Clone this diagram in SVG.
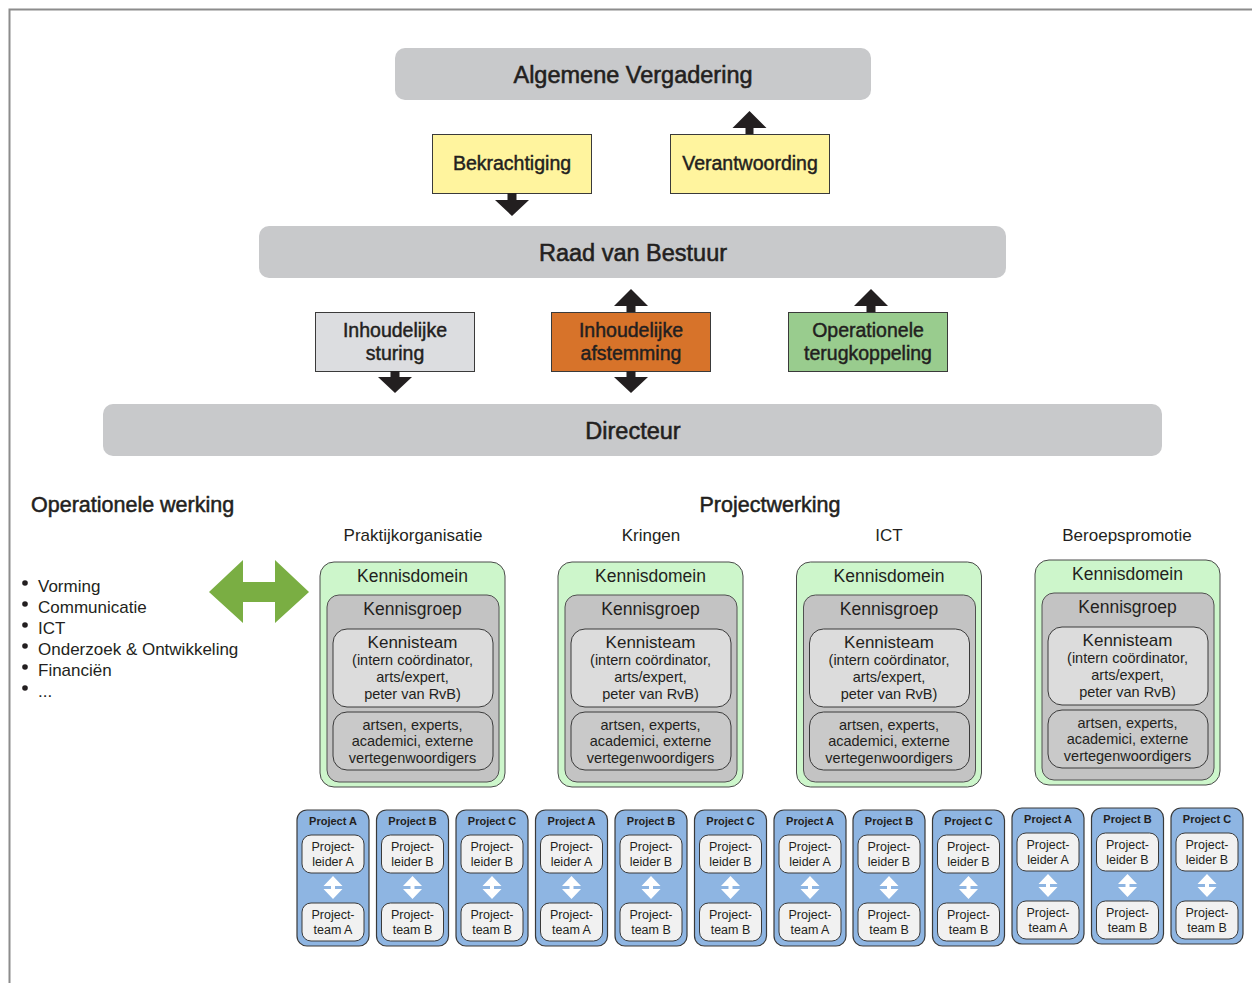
<svg xmlns="http://www.w3.org/2000/svg" xmlns:xlink="http://www.w3.org/1999/xlink" width="1252" height="983" viewBox="0 0 1252 983">
<style>
text{font-family:"Liberation Sans",Arial,Helvetica,sans-serif;fill:#231f20}
.c{text-anchor:middle}
.bar{font-size:23.5px;stroke:#231f20;stroke-width:0.55}
.bx{font-size:19.5px;stroke:#231f20;stroke-width:0.45}
.hd{font-size:21.5px;stroke:#231f20;stroke-width:0.5}
.lbl{font-size:17px}
.kd{font-size:17.5px}
.kt{font-size:17px}
.sm{font-size:14.5px}
.pt{font-size:11px;font-weight:bold}
.pl{font-size:12.5px}
.gbar{fill:#c8c9cb}
.blk{fill:#231f20}
.kdom{fill:#cdf6cb;stroke:#4a4a4a;stroke-width:1}
.kgrp{fill:#c3c3c3;stroke:#505050;stroke-width:1}
.kteam{fill:#dcdcdc;stroke:#3a3a3a;stroke-width:1}
.kmem{fill:#c9c9c9;stroke:#3a3a3a;stroke-width:1}
.pbx{fill:#8eb5e2;stroke:#3a3a3a;stroke-width:1.2}
.pin{fill:#f1f1f1;stroke:#3a3a3a;stroke-width:1}
</style>
<defs>
<g id="proj">
<rect class="pbx" x="0" y="0" width="72" height="136" rx="10"/>
<rect class="pin" x="5" y="25" width="62" height="38" rx="9"/>
<rect class="pin" x="5" y="93" width="62" height="38" rx="9"/>
<path fill="#ffffff" d="M36,66 L45.5,76 H38 V79 H45.5 L36,89 L26.5,79 H34 V76 H26.5 Z"/>
</g>
<g id="kshape">
<rect class="kdom" x="0" y="0" width="185" height="225" rx="14"/>
<rect class="kgrp" x="7" y="33" width="172" height="187" rx="12"/>
<rect class="kteam" x="13" y="67" width="160" height="78" rx="14"/>
<rect class="kmem" x="13" y="150" width="160" height="58" rx="14"/>
</g>
</defs>
<rect x="0" y="0" width="1252" height="983" fill="#ffffff"/>
<g id="frame" stroke="#8c8c8c" stroke-width="2" fill="none">
<path d="M9.5,983 V9.5 H1252"/>
</g>

<g id="algemene-vergadering">
<rect class="gbar" x="395" y="48" width="476" height="52" rx="10"/>
<text class="c bar" x="633" y="83">Algemene Vergadering</text>
</g>
<g id="bekrachtiging">
<rect x="432.5" y="134.5" width="159" height="59" fill="#fff49e" stroke="#3a3a3a" stroke-width="1"/>
<text class="c bx" x="512" y="170">Bekrachtiging</text>
</g>
<g id="verantwoording">
<rect x="670.5" y="134.5" width="159" height="59" fill="#fff49e" stroke="#3a3a3a" stroke-width="1"/>
<text class="c bx" x="750" y="170">Verantwoording</text>
</g>
<g id="raad-van-bestuur">
<rect class="gbar" x="259" y="226" width="747" height="52" rx="10"/>
<text class="c bar" x="633" y="261">Raad van Bestuur</text>
</g>
<g id="inhoudelijke-sturing">
<rect x="315.5" y="312.5" width="159" height="59" fill="#dcdde0" stroke="#3a3a3a" stroke-width="1"/>
<text class="c bx" x="395" y="337">Inhoudelijke</text>
<text class="c bx" x="395" y="360">sturing</text>
</g>
<g id="inhoudelijke-afstemming">
<rect x="551.5" y="312.5" width="159" height="59" fill="#d7732a" stroke="#3a3a3a" stroke-width="1"/>
<text class="c bx" x="631" y="337">Inhoudelijke</text>
<text class="c bx" x="631" y="360">afstemming</text>
</g>
<g id="operationele-terugkoppeling">
<rect x="788.5" y="312.5" width="159" height="59" fill="#99cc8e" stroke="#3a3a3a" stroke-width="1"/>
<text class="c bx" x="868" y="337">Operationele</text>
<text class="c bx" x="868" y="360">terugkoppeling</text>
</g>
<g id="directeur">
<rect class="gbar" x="103" y="404" width="1059" height="52" rx="10"/>
<text class="c bar" x="633" y="439">Directeur</text>
</g>

<g id="connectors">
<path class="blk" d="M507.5,193 H516.5 V200 H529 L512,216 L495,200 H507.5 Z"/>
<path class="blk" d="M745.5,134 H753.5 V128 H766.5 L749.5,111 L732.5,128 H745.5 Z"/>
<path class="blk" d="M390.5,371 H399.5 V377 H412 L395,393 L378,377 H390.5 Z"/>
<path class="blk" d="M626.5,312 H635.5 V306 H648 L631,289 L614,306 H626.5 Z"/>
<path class="blk" d="M626.5,371 H635.5 V377 H648 L631,393 L614,377 H626.5 Z"/>
<path class="blk" d="M866.5,312 H875.5 V306 H888 L871,289 L854,306 H866.5 Z"/>
<path fill="#7aae43" d="M209,592 L243,560 V582 H275 V560 L309,592 L275,623 V602 H243 V623 Z"/>
</g>

<g id="operationele-werking">
<text class="hd" x="31" y="512">Operationele werking</text>
<g fill="#231f20">
<circle cx="25" cy="583" r="2.8"/>
<circle cx="25" cy="604" r="2.8"/>
<circle cx="25" cy="625" r="2.8"/>
<circle cx="25" cy="646" r="2.8"/>
<circle cx="25" cy="667" r="2.8"/>
<circle cx="25" cy="688" r="2.8"/>
</g>
<text class="lbl" x="38" y="592">Vorming</text>
<text class="lbl" x="38" y="613">Communicatie</text>
<text class="lbl" x="38" y="634">ICT</text>
<text class="lbl" x="38" y="655">Onderzoek &amp; Ontwikkeling</text>
<text class="lbl" x="38" y="676">Financiën</text>
<text class="lbl" x="38" y="697">...</text>
</g>

<g id="projectwerking">
<text class="c hd" x="770" y="512">Projectwerking</text>
<text class="c lbl" x="413" y="541">Praktijkorganisatie</text>
<text class="c lbl" x="651" y="541">Kringen</text>
<text class="c lbl" x="889" y="541">ICT</text>
<text class="c lbl" x="1127" y="541">Beroepspromotie</text>
</g>

<g id="kennisdomein-praktijkorganisatie" transform="translate(320,562)">
<use xlink:href="#kshape" href="#kshape"/>
<text class="c kd" x="92.5" y="20">Kennisdomein</text>
<text class="c kd" x="92.5" y="53">Kennisgroep</text>
<text class="c kt" x="92.5" y="86">Kennisteam</text>
<text class="c sm" x="92.5" y="103">(intern coördinator,</text>
<text class="c sm" x="92.5" y="120">arts/expert,</text>
<text class="c sm" x="92.5" y="137">peter van RvB)</text>
<text class="c sm" x="92.5" y="168">artsen, experts,</text>
<text class="c sm" x="92.5" y="184">academici, externe</text>
<text class="c sm" x="92.5" y="201">vertegenwoordigers</text>
</g>
<g id="kennisdomein-kringen" transform="translate(558,562)">
<use xlink:href="#kshape" href="#kshape"/>
<text class="c kd" x="92.5" y="20">Kennisdomein</text>
<text class="c kd" x="92.5" y="53">Kennisgroep</text>
<text class="c kt" x="92.5" y="86">Kennisteam</text>
<text class="c sm" x="92.5" y="103">(intern coördinator,</text>
<text class="c sm" x="92.5" y="120">arts/expert,</text>
<text class="c sm" x="92.5" y="137">peter van RvB)</text>
<text class="c sm" x="92.5" y="168">artsen, experts,</text>
<text class="c sm" x="92.5" y="184">academici, externe</text>
<text class="c sm" x="92.5" y="201">vertegenwoordigers</text>
</g>
<g id="kennisdomein-ict" transform="translate(796.5,562)">
<use xlink:href="#kshape" href="#kshape"/>
<text class="c kd" x="92.5" y="20">Kennisdomein</text>
<text class="c kd" x="92.5" y="53">Kennisgroep</text>
<text class="c kt" x="92.5" y="86">Kennisteam</text>
<text class="c sm" x="92.5" y="103">(intern coördinator,</text>
<text class="c sm" x="92.5" y="120">arts/expert,</text>
<text class="c sm" x="92.5" y="137">peter van RvB)</text>
<text class="c sm" x="92.5" y="168">artsen, experts,</text>
<text class="c sm" x="92.5" y="184">academici, externe</text>
<text class="c sm" x="92.5" y="201">vertegenwoordigers</text>
</g>
<g id="kennisdomein-beroepspromotie" transform="translate(1035,560)">
<use xlink:href="#kshape" href="#kshape"/>
<text class="c kd" x="92.5" y="20">Kennisdomein</text>
<text class="c kd" x="92.5" y="53">Kennisgroep</text>
<text class="c kt" x="92.5" y="86">Kennisteam</text>
<text class="c sm" x="92.5" y="103">(intern coördinator,</text>
<text class="c sm" x="92.5" y="120">arts/expert,</text>
<text class="c sm" x="92.5" y="137">peter van RvB)</text>
<text class="c sm" x="92.5" y="168">artsen, experts,</text>
<text class="c sm" x="92.5" y="184">academici, externe</text>
<text class="c sm" x="92.5" y="201">vertegenwoordigers</text>
</g>

<g id="project-1" transform="translate(297,810)"><use xlink:href="#proj" href="#proj"/>
<text class="c pt" x="36" y="15">Project A</text><text class="c pl" x="36" y="41">Project-</text><text class="c pl" x="36" y="56">leider A</text><text class="c pl" x="36" y="109">Project-</text><text class="c pl" x="36" y="124">team A</text></g>
<g id="project-2" transform="translate(376.5,810)"><use xlink:href="#proj" href="#proj"/>
<text class="c pt" x="36" y="15">Project B</text><text class="c pl" x="36" y="41">Project-</text><text class="c pl" x="36" y="56">leider B</text><text class="c pl" x="36" y="109">Project-</text><text class="c pl" x="36" y="124">team B</text></g>
<g id="project-3" transform="translate(456,810)"><use xlink:href="#proj" href="#proj"/>
<text class="c pt" x="36" y="15">Project C</text><text class="c pl" x="36" y="41">Project-</text><text class="c pl" x="36" y="56">leider B</text><text class="c pl" x="36" y="109">Project-</text><text class="c pl" x="36" y="124">team B</text></g>
<g id="project-4" transform="translate(535.5,810)"><use xlink:href="#proj" href="#proj"/>
<text class="c pt" x="36" y="15">Project A</text><text class="c pl" x="36" y="41">Project-</text><text class="c pl" x="36" y="56">leider A</text><text class="c pl" x="36" y="109">Project-</text><text class="c pl" x="36" y="124">team A</text></g>
<g id="project-5" transform="translate(615,810)"><use xlink:href="#proj" href="#proj"/>
<text class="c pt" x="36" y="15">Project B</text><text class="c pl" x="36" y="41">Project-</text><text class="c pl" x="36" y="56">leider B</text><text class="c pl" x="36" y="109">Project-</text><text class="c pl" x="36" y="124">team B</text></g>
<g id="project-6" transform="translate(694.5,810)"><use xlink:href="#proj" href="#proj"/>
<text class="c pt" x="36" y="15">Project C</text><text class="c pl" x="36" y="41">Project-</text><text class="c pl" x="36" y="56">leider B</text><text class="c pl" x="36" y="109">Project-</text><text class="c pl" x="36" y="124">team B</text></g>
<g id="project-7" transform="translate(774,810)"><use xlink:href="#proj" href="#proj"/>
<text class="c pt" x="36" y="15">Project A</text><text class="c pl" x="36" y="41">Project-</text><text class="c pl" x="36" y="56">leider A</text><text class="c pl" x="36" y="109">Project-</text><text class="c pl" x="36" y="124">team A</text></g>
<g id="project-8" transform="translate(853,810)"><use xlink:href="#proj" href="#proj"/>
<text class="c pt" x="36" y="15">Project B</text><text class="c pl" x="36" y="41">Project-</text><text class="c pl" x="36" y="56">leider B</text><text class="c pl" x="36" y="109">Project-</text><text class="c pl" x="36" y="124">team B</text></g>
<g id="project-9" transform="translate(932.5,810)"><use xlink:href="#proj" href="#proj"/>
<text class="c pt" x="36" y="15">Project C</text><text class="c pl" x="36" y="41">Project-</text><text class="c pl" x="36" y="56">leider B</text><text class="c pl" x="36" y="109">Project-</text><text class="c pl" x="36" y="124">team B</text></g>
<g id="project-10" transform="translate(1012,808)"><use xlink:href="#proj" href="#proj"/>
<text class="c pt" x="36" y="15">Project A</text><text class="c pl" x="36" y="41">Project-</text><text class="c pl" x="36" y="56">leider A</text><text class="c pl" x="36" y="109">Project-</text><text class="c pl" x="36" y="124">team A</text></g>
<g id="project-11" transform="translate(1091.5,808)"><use xlink:href="#proj" href="#proj"/>
<text class="c pt" x="36" y="15">Project B</text><text class="c pl" x="36" y="41">Project-</text><text class="c pl" x="36" y="56">leider B</text><text class="c pl" x="36" y="109">Project-</text><text class="c pl" x="36" y="124">team B</text></g>
<g id="project-12" transform="translate(1171,808)"><use xlink:href="#proj" href="#proj"/>
<text class="c pt" x="36" y="15">Project C</text><text class="c pl" x="36" y="41">Project-</text><text class="c pl" x="36" y="56">leider B</text><text class="c pl" x="36" y="109">Project-</text><text class="c pl" x="36" y="124">team B</text></g>
</svg>
